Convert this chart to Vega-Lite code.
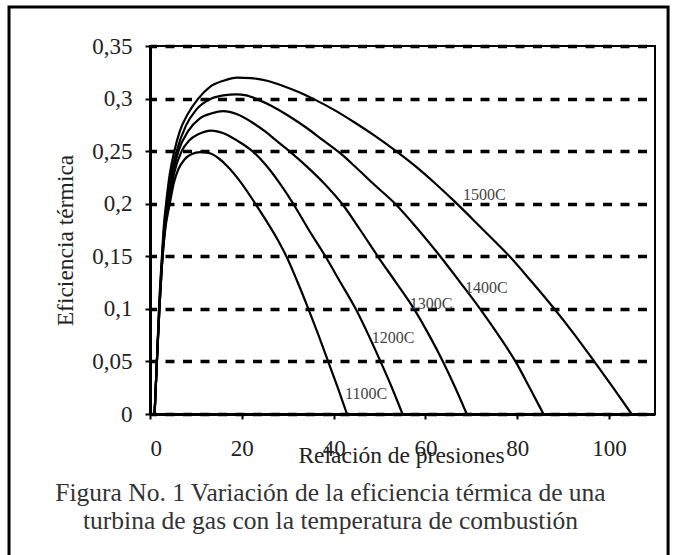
{
  "$schema": "https://vega.github.io/schema/vega-lite/v6.json",
  "width": 505,
  "height": 368,
  "autosize": {"type": "none"},
  "padding": {"left": 150, "top": 46, "right": 20, "bottom": 141},
  "background": "white",
  "config": {
    "view": {"stroke": "black", "strokeWidth": 2},
    "font": "Liberation Serif"
  },
  "title": {
    "text": ["Figura No. 1 Variación de la eficiencia térmica de una", "turbina de gas con la temperatura de combustión"],
    "orient": "bottom",
    "anchor": "middle",
    "frame": "group",
    "dx": -72,
    "offset": -79,
    "font": "Liberation Serif",
    "fontSize": 25.5,
    "fontWeight": "normal",
    "color": "#333333",
    "lineHeight": 28
  },
  "resolve": {"axis": {"x": "independent", "y": "independent"}},
  "layer": [
    {
      "data": {"values": [{}]},
      "mark": {"type": "rect", "filled": false, "color": "black", "strokeWidth": 3},
      "encoding": {
        "x": {"datum": -30.71, "type": "quantitative", "axis": null, "scale": {"domain": [0, 110], "nice": false, "zero": false}},
        "x2": {"datum": 112.85},
        "y": {"datum": 0.3871, "type": "quantitative", "axis": null, "scale": {"domain": [0, 0.35], "nice": false, "zero": false}},
        "y2": {"datum": -0.137}
      }
    },
    {
      "data": {"values": [
        {"T": "1100C", "r": 1, "eff": 0}, {"T": "1100C", "r": 1.25, "eff": 0.025}, {"T": "1100C", "r": 1.5, "eff": 0.05}, {"T": "1100C", "r": 2.05, "eff": 0.1}, {"T": "1100C", "r": 2.75, "eff": 0.15}, {"T": "1100C", "r": 3.3, "eff": 0.175}, {"T": "1100C", "r": 4.3, "eff": 0.2}, {"T": "1100C", "r": 5.2, "eff": 0.22}, {"T": "1100C", "r": 6.2, "eff": 0.233}, {"T": "1100C", "r": 7.5, "eff": 0.242}, {"T": "1100C", "r": 9, "eff": 0.247}, {"T": "1100C", "r": 11, "eff": 0.249}, {"T": "1100C", "r": 13, "eff": 0.248}, {"T": "1100C", "r": 15, "eff": 0.243}, {"T": "1100C", "r": 17, "eff": 0.235}, {"T": "1100C", "r": 19.5, "eff": 0.222}, {"T": "1100C", "r": 22.5, "eff": 0.203}, {"T": "1100C", "r": 25, "eff": 0.186}, {"T": "1100C", "r": 27.9, "eff": 0.165}, {"T": "1100C", "r": 29.7, "eff": 0.15}, {"T": "1100C", "r": 32, "eff": 0.127}, {"T": "1100C", "r": 34.5, "eff": 0.1}, {"T": "1100C", "r": 36.7, "eff": 0.075}, {"T": "1100C", "r": 38.8, "eff": 0.05}, {"T": "1100C", "r": 40.9, "eff": 0.025}, {"T": "1100C", "r": 42.9, "eff": 0},
        {"T": "1200C", "r": 1, "eff": 0}, {"T": "1200C", "r": 1.25, "eff": 0.025}, {"T": "1200C", "r": 1.5, "eff": 0.05}, {"T": "1200C", "r": 2.05, "eff": 0.1}, {"T": "1200C", "r": 2.75, "eff": 0.15}, {"T": "1200C", "r": 3.3, "eff": 0.177}, {"T": "1200C", "r": 4.1, "eff": 0.2}, {"T": "1200C", "r": 5.2, "eff": 0.228}, {"T": "1200C", "r": 6.9, "eff": 0.25}, {"T": "1200C", "r": 8.5, "eff": 0.26}, {"T": "1200C", "r": 10.5, "eff": 0.266}, {"T": "1200C", "r": 13.4, "eff": 0.2695}, {"T": "1200C", "r": 16, "eff": 0.267}, {"T": "1200C", "r": 19, "eff": 0.26}, {"T": "1200C", "r": 22.3, "eff": 0.25}, {"T": "1200C", "r": 25, "eff": 0.238}, {"T": "1200C", "r": 28, "eff": 0.221}, {"T": "1200C", "r": 31.2, "eff": 0.2}, {"T": "1200C", "r": 34.6, "eff": 0.175}, {"T": "1200C", "r": 38.2, "eff": 0.15}, {"T": "1200C", "r": 41.5, "eff": 0.125}, {"T": "1200C", "r": 44.8, "eff": 0.1}, {"T": "1200C", "r": 47.6, "eff": 0.075}, {"T": "1200C", "r": 50.2, "eff": 0.05}, {"T": "1200C", "r": 52.7, "eff": 0.025}, {"T": "1200C", "r": 55, "eff": 0},
        {"T": "1300C", "r": 1, "eff": 0}, {"T": "1300C", "r": 1.25, "eff": 0.025}, {"T": "1300C", "r": 1.5, "eff": 0.05}, {"T": "1300C", "r": 2.05, "eff": 0.1}, {"T": "1300C", "r": 2.7, "eff": 0.15}, {"T": "1300C", "r": 3.2, "eff": 0.178}, {"T": "1300C", "r": 3.9, "eff": 0.2}, {"T": "1300C", "r": 4.9, "eff": 0.228}, {"T": "1300C", "r": 6.2, "eff": 0.25}, {"T": "1300C", "r": 8.3, "eff": 0.269}, {"T": "1300C", "r": 10.8, "eff": 0.281}, {"T": "1300C", "r": 13.5, "eff": 0.286}, {"T": "1300C", "r": 15.9, "eff": 0.288}, {"T": "1300C", "r": 19, "eff": 0.285}, {"T": "1300C", "r": 22, "eff": 0.278}, {"T": "1300C", "r": 25, "eff": 0.269}, {"T": "1300C", "r": 27.8, "eff": 0.259}, {"T": "1300C", "r": 30.6, "eff": 0.249}, {"T": "1300C", "r": 34, "eff": 0.236}, {"T": "1300C", "r": 38, "eff": 0.219}, {"T": "1300C", "r": 42, "eff": 0.199}, {"T": "1300C", "r": 45.8, "eff": 0.175}, {"T": "1300C", "r": 49.6, "eff": 0.15}, {"T": "1300C", "r": 53.6, "eff": 0.125}, {"T": "1300C", "r": 57.5, "eff": 0.1}, {"T": "1300C", "r": 60.8, "eff": 0.075}, {"T": "1300C", "r": 63.8, "eff": 0.05}, {"T": "1300C", "r": 66.5, "eff": 0.025}, {"T": "1300C", "r": 69, "eff": 0},
        {"T": "1400C", "r": 1, "eff": 0}, {"T": "1400C", "r": 1.25, "eff": 0.025}, {"T": "1400C", "r": 1.5, "eff": 0.05}, {"T": "1400C", "r": 2.0, "eff": 0.1}, {"T": "1400C", "r": 2.65, "eff": 0.15}, {"T": "1400C", "r": 3.1, "eff": 0.178}, {"T": "1400C", "r": 3.7, "eff": 0.2}, {"T": "1400C", "r": 4.6, "eff": 0.228}, {"T": "1400C", "r": 5.8, "eff": 0.25}, {"T": "1400C", "r": 7.8, "eff": 0.274}, {"T": "1400C", "r": 10, "eff": 0.289}, {"T": "1400C", "r": 13.4, "eff": 0.3}, {"T": "1400C", "r": 16, "eff": 0.303}, {"T": "1400C", "r": 18.8, "eff": 0.304}, {"T": "1400C", "r": 21, "eff": 0.303}, {"T": "1400C", "r": 23.5, "eff": 0.299}, {"T": "1400C", "r": 26.5, "eff": 0.293}, {"T": "1400C", "r": 30.4, "eff": 0.283}, {"T": "1400C", "r": 34, "eff": 0.2725}, {"T": "1400C", "r": 37.5, "eff": 0.261}, {"T": "1400C", "r": 41.3, "eff": 0.2485}, {"T": "1400C", "r": 45, "eff": 0.234}, {"T": "1400C", "r": 49, "eff": 0.2175}, {"T": "1400C", "r": 53.4, "eff": 0.2}, {"T": "1400C", "r": 58.5, "eff": 0.175}, {"T": "1400C", "r": 63.2, "eff": 0.15}, {"T": "1400C", "r": 67.6, "eff": 0.125}, {"T": "1400C", "r": 71.9, "eff": 0.1}, {"T": "1400C", "r": 75.9, "eff": 0.075}, {"T": "1400C", "r": 79.6, "eff": 0.05}, {"T": "1400C", "r": 82.7, "eff": 0.025}, {"T": "1400C", "r": 85.7, "eff": 0},
        {"T": "1500C", "r": 1, "eff": 0}, {"T": "1500C", "r": 1.25, "eff": 0.025}, {"T": "1500C", "r": 1.5, "eff": 0.05}, {"T": "1500C", "r": 1.95, "eff": 0.1}, {"T": "1500C", "r": 2.6, "eff": 0.15}, {"T": "1500C", "r": 3.0, "eff": 0.178}, {"T": "1500C", "r": 3.5, "eff": 0.2}, {"T": "1500C", "r": 4.3, "eff": 0.228}, {"T": "1500C", "r": 5.3, "eff": 0.25}, {"T": "1500C", "r": 6.5, "eff": 0.269}, {"T": "1500C", "r": 8.2, "eff": 0.285}, {"T": "1500C", "r": 10.5, "eff": 0.3}, {"T": "1500C", "r": 13, "eff": 0.311}, {"T": "1500C", "r": 16, "eff": 0.317}, {"T": "1500C", "r": 19, "eff": 0.32}, {"T": "1500C", "r": 22, "eff": 0.3195}, {"T": "1500C", "r": 25.5, "eff": 0.317}, {"T": "1500C", "r": 29, "eff": 0.312}, {"T": "1500C", "r": 32.5, "eff": 0.306}, {"T": "1500C", "r": 35.9, "eff": 0.299}, {"T": "1500C", "r": 40, "eff": 0.2895}, {"T": "1500C", "r": 44.5, "eff": 0.2775}, {"T": "1500C", "r": 49, "eff": 0.2645}, {"T": "1500C", "r": 53.6, "eff": 0.25}, {"T": "1500C", "r": 58, "eff": 0.235}, {"T": "1500C", "r": 62.2, "eff": 0.219}, {"T": "1500C", "r": 66.5, "eff": 0.2015}, {"T": "1500C", "r": 70, "eff": 0.1865}, {"T": "1500C", "r": 74, "eff": 0.169}, {"T": "1500C", "r": 78.3, "eff": 0.15}, {"T": "1500C", "r": 83, "eff": 0.1265}, {"T": "1500C", "r": 87.8, "eff": 0.1015}, {"T": "1500C", "r": 92.3, "eff": 0.0765}, {"T": "1500C", "r": 96.6, "eff": 0.051}, {"T": "1500C", "r": 100.8, "eff": 0.0255}, {"T": "1500C", "r": 104.9, "eff": 0}
      ]},
      "mark": {"type": "line", "interpolate": "monotone", "color": "black", "strokeWidth": 2.2},
      "encoding": {
        "detail": {"field": "T", "type": "nominal"},
        "x": {
          "field": "r", "type": "quantitative",
          "scale": {"domain": [0, 110], "nice": false, "zero": false},
          "axis": {
            "values": [0, 20, 40, 60, 80, 100],
            "grid": false,
            "domainColor": "black", "domainWidth": 3,
            "tickColor": "black", "tickWidth": 2, "tickSize": 5,
            "labelFont": "Liberation Serif", "labelFontSize": 23, "labelColor": "#222222", "labelPadding": 18,
            "title": "Relación de presiones",
            "titleFont": "Liberation Serif", "titleFontSize": 23.5, "titleFontWeight": "normal", "titleColor": "#222222",
            "titleX": 251, "titleY": 48, "titleAlign": "center", "titleBaseline": "alphabetic", "titleAnchor": null
          }
        },
        "y": {
          "field": "eff", "type": "quantitative",
          "scale": {"domain": [0, 0.35], "nice": false, "zero": false},
          "axis": {
            "values": [0, 0.05, 0.1, 0.15, 0.2, 0.25, 0.3, 0.35],
            "labelExpr": "replace(format(datum.value, '.2~f'), '.', ',')",
            "grid": true, "gridColor": "black", "gridWidth": 3.5, "gridDash": [9, 8.5], "gridDashOffset": 2.5, "gridOpacity": 1,
            "domainColor": "black", "domainWidth": 3,
            "tickColor": "black", "tickWidth": 2, "tickSize": 5,
            "labelFont": "Liberation Serif", "labelFontSize": 23, "labelColor": "#222222", "labelPadding": 13,
            "title": "Eficiencia térmica",
            "titleFont": "Liberation Serif", "titleFontSize": 23.5, "titleFontWeight": "normal", "titleColor": "#222222",
            "titleX": -78, "titleY": 194, "titleAngle": -90, "titleAlign": "center", "titleBaseline": "alphabetic"
          }
        }
      }
    },
    {
      "data": {"values": [
        {"label": "1100C", "r": 42.5, "eff": 0.019},
        {"label": "1200C", "r": 48.3, "eff": 0.072},
        {"label": "1300C", "r": 56.6, "eff": 0.1046},
        {"label": "1400C", "r": 68.6, "eff": 0.1195},
        {"label": "1500C", "r": 68.2, "eff": 0.2083}
      ]},
      "mark": {"type": "text", "align": "left", "baseline": "middle", "font": "Liberation Serif", "fontSize": 16, "color": "#444444"},
      "encoding": {
        "x": {"field": "r", "type": "quantitative", "axis": null},
        "y": {"field": "eff", "type": "quantitative", "axis": null},
        "text": {"field": "label"}
      }
    }
  ]
}
